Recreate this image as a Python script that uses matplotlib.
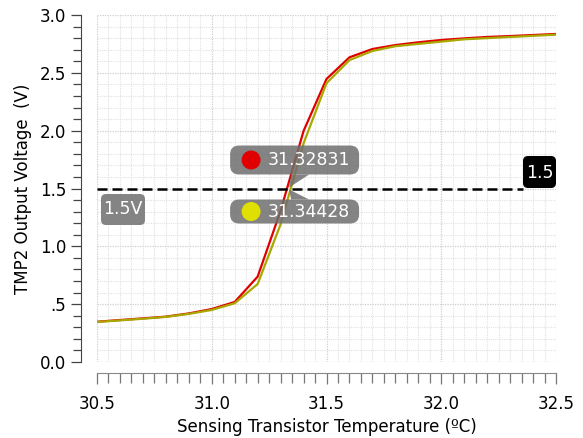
import matplotlib
matplotlib.use("Agg")
import matplotlib.pyplot as plt
from matplotlib.patches import FancyBboxPatch, Polygon, Circle
from matplotlib.transforms import IdentityTransform
from matplotlib.ticker import MultipleLocator, FixedLocator, FixedFormatter

# ---- data ----
temps = [30.5, 30.6, 30.7, 30.8, 30.9, 31.0, 31.1, 31.2, 31.3, 31.4,
         31.5, 31.6, 31.7, 31.8, 31.9, 32.0, 32.1, 32.2, 32.3, 32.4, 32.5]
v_red = [0.348, 0.363, 0.377, 0.392, 0.420, 0.458, 0.519, 0.738, 1.307, 1.997,
         2.447, 2.634, 2.706, 2.740, 2.764, 2.784, 2.798, 2.810, 2.818, 2.827, 2.836]
v_yel = [0.346, 0.360, 0.374, 0.390, 0.416, 0.450, 0.508, 0.674, 1.190, 1.890,
         2.410, 2.610, 2.689, 2.730, 2.750, 2.770, 2.790, 2.800, 2.810, 2.820, 2.830]
threshold = 1.5
cross_red = 31.32831
cross_yel = 31.34428
yticks = [0.0, 0.5, 1.0, 1.5, 2.0, 2.5, 3.0]
ytick_labels = ["0.0", ".5", "1.0", "1.5", "2.0", "2.5", "3.0"]
xticks = [30.5, 31.0, 31.5, 32.0, 32.5]
xtick_labels = ["30.5", "31.0", "31.5", "32.0", "32.5"]

W, H = 583, 438
fig = plt.figure(figsize=(W / 100, H / 100), dpi=100)
ax = fig.add_axes([97 / W, 1 - 362 / H, (556 - 97) / W, (362 - 15) / H])
ax.set_xlim(30.5, 32.5)
ax.set_ylim(0, 3.0)

# grid
ax.xaxis.set_major_locator(FixedLocator(xticks))
ax.xaxis.set_major_formatter(FixedFormatter(xtick_labels))
ax.xaxis.set_minor_locator(MultipleLocator(0.05))
ax.yaxis.set_major_locator(FixedLocator(yticks))
ax.yaxis.set_major_formatter(FixedFormatter(ytick_labels))
ax.yaxis.set_minor_locator(MultipleLocator(0.1))
ax.grid(True, which="minor", color="#e2e2e2", linestyle=(0, (1, 1)), linewidth=0.8)
ax.grid(True, which="major", color="#cfcfcf", linestyle=(0, (1, 1)), linewidth=0.9)
ax.set_axisbelow(True)

for s in ["top", "right"]:
    ax.spines[s].set_visible(False)
ax.spines["left"].set_position(("outward", 11.5))
ax.spines["bottom"].set_position(("outward", 8))
ax.spines["left"].set_color("#444444")
ax.spines["bottom"].set_color("#888888")
ax.tick_params(axis="y", which="both", direction="out", colors="#444444",
               labelcolor="black", labelsize=12, length=6, width=0.9)
ax.tick_params(axis="y", which="major", length=7)
ax.tick_params(axis="x", which="both", direction="out", colors="#777777",
               labelcolor="black", labelsize=12, length=7, width=0.9, pad=8)
ax.tick_params(axis="x", which="major", length=8)

ax.set_xlabel("Sensing Transistor Temperature (ºC)", fontsize=12, labelpad=3)
ax.set_ylabel("TMP2 Output Voltage  (V)", fontsize=12, labelpad=6)

# curves
ax.plot(temps, v_red, color="#e00000", linewidth=1.6, zorder=3)
ax.plot(temps, v_yel, color="#a8a800", linewidth=1.6, zorder=4)

# threshold dashed line (stops at the label box)
x_end = ax.transData.inverted().transform((523, 0))[0]
ax.plot([30.5, x_end], [threshold, threshold], color="black", linewidth=1.8,
        linestyle=(0, (4, 2)), zorder=5)

fig.canvas.draw()
T = ax.transData
cx, cy = T.transform((cross_red, threshold))
ident = IdentityTransform()

def box(x0, y0, w, h, fc, alpha, rad):
    p = FancyBboxPatch((x0, y0), w, h, boxstyle=f"round,pad=0,rounding_size={rad}",
                       transform=ident, facecolor=fc, edgecolor="none", alpha=alpha,
                       zorder=6)
    fig.add_artist(p)

gray = "#6e6e6e"
# upper callout
ux0, uw, uh = cx - 57, 129, 29
uy0 = cy + 14
box(ux0, uy0, uw, uh, gray, 0.85, 9)
fig.add_artist(Polygon([[cx + 2, cy + 1], [cx + 4, uy0], [cx + 22, uy0]], closed=True,
                       transform=ident, facecolor=gray, edgecolor="none", alpha=0.85, zorder=6))
fig.add_artist(Circle((ux0 + 21, uy0 + uh / 2), 9.5, transform=ident, facecolor="#e00000",
                      edgecolor="none", zorder=7))
fig.text((ux0 + 38) / W, (uy0 + uh / 2) / H, f"{cross_red:.5f}", color="white", fontsize=12.5,
         ha="left", va="center", zorder=8)

# lower callout
ly0 = cy - 12 - 23 - 1
lh = 23 + 1
box(ux0, cy - 35, uw, 24, gray, 0.85, 9)
fig.add_artist(Polygon([[cx + 2, cy - 1], [cx + 4, cy - 11], [cx + 22, cy - 11]], closed=True,
                       transform=ident, facecolor=gray, edgecolor="none", alpha=0.85, zorder=6))
fig.add_artist(Circle((ux0 + 21, cy - 23), 9.5, transform=ident, facecolor="#e0e000",
                      edgecolor="none", zorder=7))
fig.text((ux0 + 38) / W, (cy - 23) / H, f"{cross_yel:.5f}", color="white", fontsize=12.5,
         ha="left", va="center", zorder=8)

# "1.5V" label at left
box(101, H - 225, 44, 31, "#777777", 0.9, 5)
fig.text(123 / W, (H - 209.5) / H, "1.5V", color="white", fontsize=12.5, ha="center",
         va="center", zorder=8)

# "1.5" label at right
box(523, H - 188, 33, 32, "black", 1.0, 5)
fig.text(539.5 / W, (H - 173) / H, "1.5", color="white", fontsize=12.5, ha="center",
         va="center", zorder=8)

fig.savefig("out.png", dpi=100)
